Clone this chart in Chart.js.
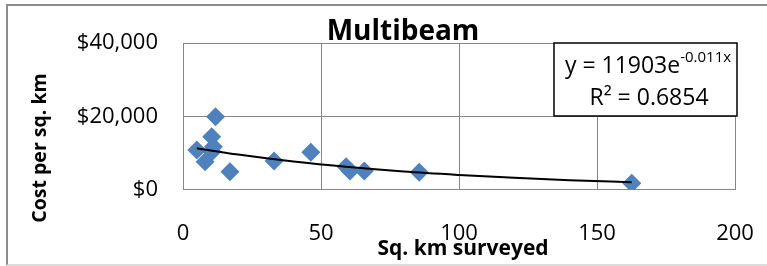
<!DOCTYPE html>
<html>
<head>
    <title>Multibeam</title>
    <script src="https://cdn.jsdelivr.net/npm/chart.js"></script>
    <style>
        body {
            margin: 0;
            background: #fff;
        }
        canvas {
            display: block;
        }
    </style>
</head>
<body>
    <canvas id="multibeamChart" width="767" height="266"></canvas>

    <script>
        // values
        const surveyedKm = [5.0, 8.0, 11.8, 10.4, 11.0, 10.5, 17.0, 33.0, 46.3, 59.1, 60.5, 65.7, 85.6, 162.6];
        const costPerKm = [10780, 7590, 19870, 14410, 11680, 10300, 4860, 7780, 10150, 6220, 5050, 5050, 4700, 1690];

        // exponential trendline, points
        const trendKm = [5, 20, 40, 60, 80, 100, 120, 140, 162.6];
        const trendCost = [11260, 9530, 7630, 6120, 4900, 3970, 3180, 2550, 1990];

        const eqMain = 'y = 11903e';
        const eqExp = '-0.011x';
        const eqR2 = 'R² = 0.6854';

        const gridGray = '#868686';

        const extras = {
            id: 'extras',
            afterDraw(chart) {
                const ctx = chart.ctx;
                ctx.save();

                // outer frame (left, top, bottom)
                ctx.strokeStyle = '#8c8c8c';
                ctx.lineWidth = 2;
                ctx.beginPath();
                ctx.moveTo(767, 5);
                ctx.lineTo(7, 5);
                ctx.lineTo(7, 265);
                ctx.stroke();
                ctx.strokeStyle = '#d0d0d0';
                ctx.lineWidth = 1.5;
                ctx.beginPath();
                ctx.moveTo(7, 265);
                ctx.lineTo(767, 265);
                ctx.stroke();

                ctx.fillStyle = '#000';
                ctx.textAlign = 'center';
                ctx.textBaseline = 'middle';

                // chart title
                ctx.font = 'bold 28px "Open Sans"';
                ctx.fillText('Multibeam', 403, 32);

                // axis titles
                ctx.font = 'bold 21px "Open Sans"';
                ctx.fillText('Sq. km surveyed', 463, 249);
                ctx.font = 'bold 19.5px "Open Sans"';
                ctx.save();
                ctx.translate(40, 148);
                ctx.rotate(-Math.PI / 2);
                ctx.fillText('Cost per sq. km', 0, 0);
                ctx.restore();

                // trendline label box
                ctx.fillStyle = '#fff';
                ctx.fillRect(554, 43, 183, 73);
                ctx.strokeStyle = '#000';
                ctx.lineWidth = 1.5;
                ctx.strokeRect(554, 43, 183, 73);

                ctx.fillStyle = '#000';
                ctx.font = '23px "Open Sans"';
                const w1 = ctx.measureText(eqMain).width;
                ctx.font = '15px "Open Sans"';
                const w2 = ctx.measureText(eqExp).width;
                const x0 = 648 - (w1 + w2) / 2;
                ctx.textAlign = 'left';
                ctx.font = '23px "Open Sans"';
                ctx.fillText(eqMain, x0, 66);
                ctx.font = '15px "Open Sans"';
                ctx.fillText(eqExp, x0 + w1, 58);
                ctx.textAlign = 'center';
                ctx.font = '23px "Open Sans"';
                ctx.fillText(eqR2, 649, 98);

                ctx.restore();
            }
        };

        const ctx = document.getElementById('multibeamChart').getContext('2d');
        new Chart(ctx, {
            type: 'scatter',
            data: {
                datasets: [{
                    label: 'Trend',
                    type: 'line',
                    data: trendKm.map((x, i) => ({ x: x, y: trendCost[i] })),
                    borderColor: '#000',
                    borderWidth: 2,
                    pointRadius: 0,
                    cubicInterpolationMode: 'monotone',
                    fill: false,
                    order: 0
                }, {
                    label: 'Multibeam',
                    data: surveyedKm.map((x, i) => ({ x: x, y: costPerKm[i] })),
                    pointStyle: 'rectRot',
                    pointRadius: 9.5,
                    pointHoverRadius: 9.5,
                    backgroundColor: '#4F81BD',
                    borderColor: '#4F81BD',
                    borderWidth: 0,
                    order: 1
                }]
            },
            options: {
                responsive: false,
                animation: false,
                devicePixelRatio: 1,
                layout: {
                    padding: { top: 43, right: 32, left: 0, bottom: 0 }
                },
                plugins: {
                    legend: { display: false },
                    tooltip: { enabled: false }
                },
                scales: {
                    x: {
                        type: 'linear',
                        min: 0,
                        max: 200,
                        ticks: {
                            stepSize: 50,
                            padding: 31,
                            color: '#000',
                            font: { family: 'Open Sans', size: 22 }
                        },
                        grid: { color: gridGray, drawTicks: false },
                        border: { color: gridGray },
                        afterFit(scale) {
                            scale.height = 76.5;
                            scale.paddingLeft = 0;
                            scale.paddingRight = 0;
                        }
                    },
                    y: {
                        min: 0,
                        max: 40000,
                        ticks: {
                            stepSize: 20000,
                            padding: 25,
                            color: '#000',
                            font: { family: 'Open Sans', size: 22 },
                            callback: v => '$' + v.toLocaleString('en-US')
                        },
                        grid: { color: gridGray, drawTicks: false },
                        border: { color: gridGray },
                        afterFit(scale) {
                            scale.width = 183;
                            scale.paddingTop = 0;
                            scale.paddingBottom = 0;
                        }
                    }
                }
            },
            plugins: [extras]
        });
    </script>
</body>
</html>
